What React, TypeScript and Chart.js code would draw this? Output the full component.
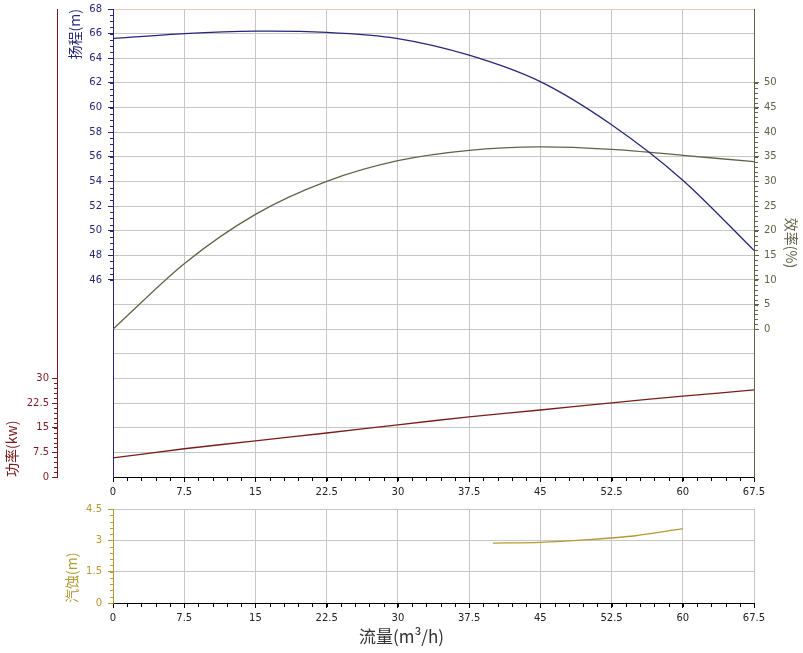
import React, { useEffect, useRef } from 'react';
import { Chart, registerables } from 'chart.js';

Chart.register(...registerables);

// ---- data ----
const flow = [0, 7.5, 15, 22.5, 30, 37.5, 45, 52.5, 60, 67.5];
const head = [65.6, 66.0, 66.2, 66.1, 65.6, 64.25, 62.1, 58.6, 54.1, 48.4];
const efficiency = [0, 13.3, 23.3, 30.0, 34.2, 36.3, 37.0, 36.5, 35.3, 34.0];
const power = [5.8, 8.6, 11.0, 13.4, 15.9, 18.3, 20.4, 22.6, 24.6, 26.5];
const npshFlow = [40, 45, 50, 55, 60];
const npsh = [2.87, 2.9, 3.03, 3.22, 3.56];

// axis ranges / label ranges
const headRange = [30, 68, 2];
const headLabelRange = [46, 68];
const effRange = [-30, 65, 5];
const effLabelRange = [0, 50];
const powerRange = [0, 142.5, 7.5];
const powerLabelRange = [0, 30];
const flowRange = [0, 67.5, 7.5];
const npshRange = [0, 4.5, 1.5];

// ---- styles ----
const C_HEAD = '#26267a';
const C_EFF = '#62624a';
const C_POW = '#7a1c1c';
const C_NPSH = '#b39a35';
const C_GRID = '#c6c6c6';
const C_TOP = '#f2c6b6';
const C_TEXT = '#222222';

const tickFont = { family: 'DejaVu Sans', size: 10 };
const axisTitleFont = { family: 'Noto Sans CJK SC', size: 14 };

type Minor = { id: string; from: number; to: number; step: number; side: 'left' | 'right' | 'bottom'; color: string };

function minorTicks(list: Minor[]) {
  return {
    id: 'minorTicks',
    afterDraw(chart: any) {
      const ctx = chart.ctx;
      ctx.save();
      ctx.lineWidth = 1;
      for (const m of list) {
        const s = chart.scales[m.id];
        if (!s) continue;
        ctx.strokeStyle = m.color;
        ctx.beginPath();
        const n = Math.round((m.to - m.from) / m.step);
        for (let i = 0; i <= n; i++) {
          const v = m.from + i * m.step;
          const p = Math.round(s.getPixelForValue(v)) + 0.5;
          if (m.side === 'left') {
            const x = Math.round(s.right);
            ctx.moveTo(x - 3, p);
            ctx.lineTo(x, p);
          } else if (m.side === 'right') {
            const x = Math.round(s.left) + 1;
            ctx.moveTo(x, p);
            ctx.lineTo(x + 3, p);
          } else {
            const y = Math.round(s.top) + 1;
            ctx.moveTo(p, y);
            ctx.lineTo(p, y + 3);
          }
        }
        ctx.stroke();
      }
      ctx.restore();
    },
  };
}

const inRange = (v: number, r: number[]) => v >= r[0] - 1e-9 && v <= r[1] + 1e-9;

const fixWidth = (w: number) => (s: any) => {
  s.width = w;
  s.paddingTop = 0;
  s.paddingBottom = 0;
};

export default function App() {
  const ref1 = useRef<HTMLCanvasElement | null>(null);
  const ref2 = useRef<HTMLCanvasElement | null>(null);

  useEffect(() => {
    const line = (xs: number[], ys: number[], color: string, axis: string, label: string) => ({
      label,
      data: xs.map((x, i) => ({ x, y: ys[i] })),
      yAxisID: axis,
      borderColor: color,
      backgroundColor: color,
      borderWidth: 1.3,
      pointRadius: 0,
      tension: 0.3,
      fill: false,
    });

    const c1 = new Chart(ref1.current as HTMLCanvasElement, {
      type: 'line',
      data: {
        datasets: [
          line(flow, head, C_HEAD, 'yH', '扬程'),
          line(flow, efficiency, C_EFF, 'yE', '效率'),
          line(flow, power, C_POW, 'yP', '功率'),
        ],
      },
      options: {
        responsive: false,
        animation: false,
        devicePixelRatio: 1,
        layout: { padding: { top: 9, left: 0, right: 0, bottom: 0 } },
        plugins: { legend: { display: false }, tooltip: { enabled: false } },
        scales: {
          x: {
            type: 'linear',
            position: 'bottom',
            min: flowRange[0],
            max: flowRange[1],
            ticks: { stepSize: flowRange[2], autoSkip: false, maxRotation: 0, font: tickFont, color: C_TEXT, padding: 4, callback: (v: any) => String(v) },
            grid: {
              color: (ctx: any) => (ctx.tick && (ctx.tick.value === flowRange[0] || ctx.tick.value === flowRange[1]) ? 'rgba(0,0,0,0)' : C_GRID),
              tickColor: '#000',
              tickLength: 5,
            },
            border: { color: '#000' },
            afterFit: (s: any) => { s.height = 25; },
          },
          yP: {
            type: 'linear',
            position: 'left',
            weight: 5,
            min: powerRange[0],
            max: powerRange[1],
            ticks: {
              stepSize: powerRange[2], autoSkip: false, font: tickFont, color: C_POW, padding: 3,
              callback: (v: any) => (inRange(v, powerLabelRange) ? String(v) : ''),
            },
            grid: {
              drawOnChartArea: false,
              tickLength: 5,
              tickColor: (ctx: any) => (ctx.tick && inRange(ctx.tick.value, powerLabelRange) ? C_POW : 'rgba(0,0,0,0)'),
            },
            border: { color: C_POW },
            title: { display: true, text: '功率(kw)', align: 'start', color: C_POW, font: axisTitleFont, padding: { top: 3, bottom: 0 } },
            afterFit: fixWidth(57),
          },
          yH: {
            type: 'linear',
            position: 'left',
            weight: 1,
            min: headRange[0],
            max: headRange[1],
            ticks: {
              stepSize: headRange[2], autoSkip: false, font: tickFont, color: C_HEAD, padding: 6,
              callback: (v: any) => (inRange(v, headLabelRange) ? String(v) : ''),
            },
            grid: {
              color: (ctx: any) => {
                if (!ctx.tick) return C_GRID;
                if (ctx.tick.value === headRange[1]) return C_TOP;
                if (ctx.tick.value === headRange[0]) return 'rgba(0,0,0,0)';
                return C_GRID;
              },
              tickLength: 5,
              tickColor: (ctx: any) => (ctx.tick && inRange(ctx.tick.value, headLabelRange) ? C_HEAD : 'rgba(0,0,0,0)'),
            },
            border: { color: C_HEAD },
            title: { display: true, text: '扬程(m)', align: 'end', color: C_HEAD, font: axisTitleFont, padding: { top: 9, bottom: 0 } },
            afterFit: fixWidth(56),
          },
          yE: {
            type: 'linear',
            position: 'right',
            min: effRange[0],
            max: effRange[1],
            ticks: {
              stepSize: effRange[2], autoSkip: false, font: tickFont, color: C_EFF, padding: 5,
              callback: (v: any) => (inRange(v, effLabelRange) ? String(v) : ''),
            },
            grid: {
              drawOnChartArea: false,
              tickLength: 5,
              tickColor: (ctx: any) => (ctx.tick && inRange(ctx.tick.value, effLabelRange) ? C_EFF : 'rgba(0,0,0,0)'),
            },
            border: { color: C_EFF },
            title: { display: true, text: '效率(%)', align: 'center', color: C_EFF, font: axisTitleFont, padding: { top: 3, bottom: 0 } },
            afterFit: fixWidth(49),
          },
        },
      } as any,
      plugins: [
        minorTicks([
          { id: 'yH', from: headLabelRange[0], to: headLabelRange[1], step: 0.5, side: 'left', color: C_HEAD },
          { id: 'yP', from: powerLabelRange[0], to: powerLabelRange[1], step: 1.5, side: 'left', color: C_POW },
          { id: 'yE', from: effLabelRange[0], to: effLabelRange[1], step: 1, side: 'right', color: C_EFF },
          { id: 'x', from: flowRange[0], to: flowRange[1], step: 1.5, side: 'bottom', color: '#000' },
        ]),
      ],
    });

    const c2 = new Chart(ref2.current as HTMLCanvasElement, {
      type: 'line',
      data: {
        datasets: [line(npshFlow, npsh, C_NPSH, 'y', '汽蚀')],
      },
      options: {
        responsive: false,
        animation: false,
        devicePixelRatio: 1,
        layout: { padding: { top: 7, left: 0, right: 0, bottom: 0 } },
        plugins: {
          legend: { display: false },
          tooltip: { enabled: false },
          title: {
            display: true,
            text: '流量(m³/h)',
            position: 'bottom',
            color: '#333333',
            font: { family: 'Noto Sans CJK SC', size: 17, weight: 'normal' },
            padding: { top: 0, bottom: 6 },
          },
        },
        scales: {
          x: {
            type: 'linear',
            position: 'bottom',
            min: flowRange[0],
            max: flowRange[1],
            ticks: { stepSize: flowRange[2], autoSkip: false, maxRotation: 0, font: tickFont, color: C_TEXT, padding: 4, callback: (v: any) => String(v) },
            grid: {
              color: (ctx: any) => (ctx.tick && ctx.tick.value === flowRange[0] ? 'rgba(0,0,0,0)' : C_GRID),
              tickColor: '#000',
              tickLength: 5,
            },
            border: { color: '#000' },
            afterFit: (s: any) => { s.height = 23.6; },
          },
          y: {
            type: 'linear',
            position: 'left',
            min: npshRange[0],
            max: npshRange[1],
            ticks: { stepSize: npshRange[2], autoSkip: false, font: tickFont, color: C_NPSH, padding: 6, callback: (v: any) => String(v) },
            grid: {
              color: (ctx: any) => (ctx.tick && ctx.tick.value === npshRange[0] ? 'rgba(0,0,0,0)' : C_GRID),
              tickLength: 5,
              tickColor: C_NPSH,
            },
            border: { color: C_NPSH },
            title: { display: true, text: '汽蚀(m)', align: 'start', color: C_NPSH, font: axisTitleFont, padding: { top: 63, bottom: 0 } },
            afterFit: fixWidth(113),
          },
          yR: {
            type: 'linear',
            position: 'right',
            display: true,
            ticks: { display: false },
            grid: { display: false },
            border: { display: false },
            afterFit: fixWidth(49),
          },
        },
      } as any,
      plugins: [
        minorTicks([
          { id: 'y', from: npshRange[0], to: npshRange[1], step: 0.3, side: 'left', color: C_NPSH },
          { id: 'x', from: flowRange[0], to: flowRange[1], step: 1.5, side: 'bottom', color: '#000' },
        ]),
      ],
    });

    return () => {
      c1.destroy();
      c2.destroy();
    };
  }, []);

  return (
    <div style={{ position: 'absolute', left: 0, top: 0, width: 803, height: 653, background: '#ffffff' }}>
      <canvas ref={ref1} width={803} height={502} style={{ position: 'absolute', left: 0, top: 0 }} />
      <canvas ref={ref2} width={803} height={151} style={{ position: 'absolute', left: 0, top: 502 }} />
    </div>
  );
}
